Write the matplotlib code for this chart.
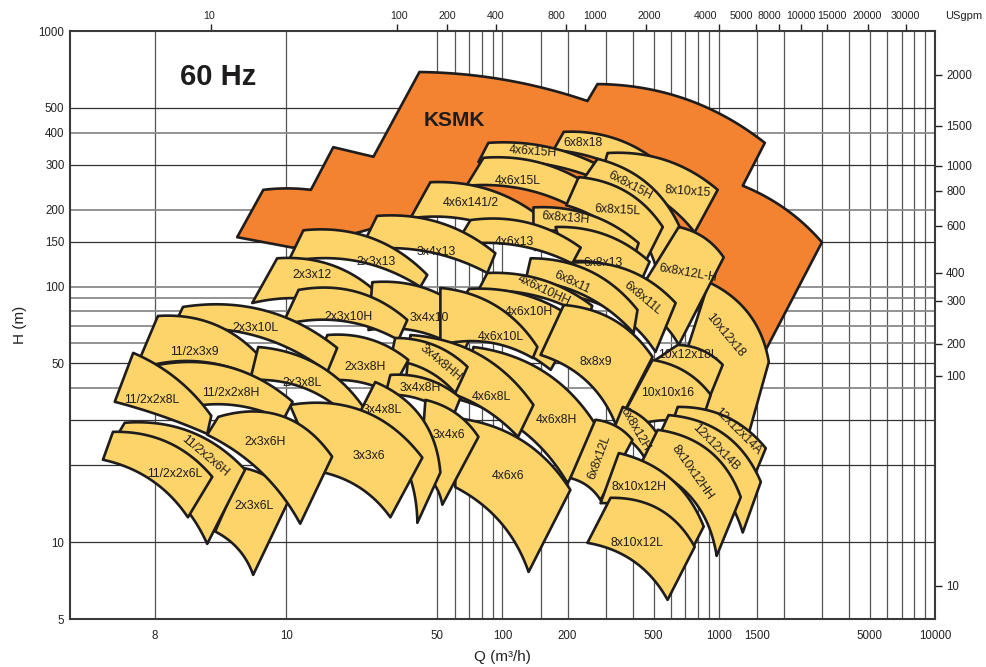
import numpy as np
import matplotlib.pyplot as plt
from matplotlib.ticker import NullLocator

plt.rcParams['font.family'] = ['Liberation Sans', 'DejaVu Sans']

# pump ranges, drawn back to front; corners are TL, TR, BR, BL as (Q m3/h, H m)
tile_names = ['6x8x18', '8x10x15', '4x6x15H', '6x8x15H', '4x6x15L', '6x8x15L',
              '10x12x18', '6x8x12L-H', '4x6x141/2', '6x8x13H', '6x8x13', '4x6x13',
              '3x4x13', '2x3x13', '6x8x11L', '6x8x11', '4x6x10HH', '4x6x10H',
              '2x3x12', '3x4x10', '4x6x10L', '2x3x10H', '10x12x18L', '8x8x9',
              '10x10x16', '12x12x14A', '12x12x14B', '4x6x8H', '4x6x8L', '3x4x8HH',
              '2x3x8H', '2x3x10L', '11/2x3x9', '2x3x8L', '3x4x8H', '6x8x12H',
              '6x8x12L', '8x10x12HH', '8x10x12H', '8x10x12L', '4x6x6', '3x4x6',
              '3x4x8L', '3x3x6', '11/2x2x8H', '11/2x2x8L', '2x3x6L', '2x3x6H',
              '11/2x2x6H', '11/2x2x6L']

tile_q = [[192, 551, 494, 172], [306, 989, 774, 284], [86.0, 284, 266, 77.4],
          [275, 660, 510, 235], [81.7, 263, 235, 68.1], [225, 551, 449, 197],
          [899, 1704, 1291, 612], [653, 1054, 653, 391], [46.4, 163, 142, 37.5],
          [139, 426, 408, 139], [176, 479, 435, 196], [71.1, 230, 210, 60.5],
          [26.3, 92.7, 85.1, 22.0], [12.0, 44.9, 41.7, 10.2], [210, 632, 510, 186],
          [135, 421, 404, 128], [85.1, 260, 250, 77.0], [70.0, 223, 167, 51.6],
          [9.08, 29.0, 26.6, 6.96], [25.0, 76.6, 66.0, 24.0], [51.6, 145, 138, 51.6],
          [11.4, 36.3, 33.0, 9.58], [646, 1043, 889, 494], [192, 494, 337, 150],
          [494, 918, 825, 323], [646, 1650, 1483, 612], [586, 1565, 1291, 494],
          [73.4, 275, 200, 63.9], [37.5, 139, 118, 35.6], [31.9, 68.9, 60.5, 30.3],
          [15.5, 36.7, 30.3, 12.2], [3.33, 17.2, 15.5, 2.96], [2.55, 7.58, 6.96, 2.00],
          [7.42, 23.2, 20.9, 6.81], [30.3, 63.9, 58.6, 28.7], [360, 539, 459, 323],
          [269, 399, 284, 206], [522, 1264, 978, 435], [345, 852, 758, 284],
          [316, 774, 580, 247], [60.5, 206, 132, 60.5], [44.0, 77.4, 52.7, 41.7],
          [25.8, 51.6, 40.4, 22.2], [10.4, 42.6, 30.3, 14.1], [2.53, 10.7, 9.68, 2.90],
          [1.96, 4.50, 4.31, 1.61], [6.32, 10.4, 7.03, 4.69], [4.85, 16.3, 11.6, 4.31],
          [1.79, 6.45, 4.31, 1.44], [1.58, 4.55, 3.51, 1.42]]

tile_h = [[403, 296, 239, 342], [333, 239, 163, 266], [365, 296, 266, 307],
          [316, 171, 121, 261], [319, 243, 195, 248], [268, 171, 121, 208],
          [104, 50.7, 21.9, 37.7], [171, 130, 59.1, 84.7], [256, 176, 139, 185],
          [204, 148, 132, 163], [171, 125, 104, 125], [182, 142, 123, 145],
          [189, 135, 113, 139], [166, 111, 99.7, 125], [124, 86.2, 55.5, 92.7],
          [129, 81.0, 65.8, 106], [113, 84.0, 75.3, 96.0], [97.9, 73.0, 47.2, 64.0],
          [129, 87.0, 72.7, 86.2], [104, 72.0, 55.5, 67.6], [98.8, 58.0, 52.5, 59.1],
          [97.0, 74.0, 61.8, 70.7], [59.1, 49.4, 35.4, 50.7], [84.7, 53.0, 28.3, 54.0],
          [51.6, 37.7, 28.8, 26.3], [33.8, 23.3, 18.7, 29.6], [31.4, 17.2, 10.9, 22.9],
          [58.0, 28.0, 17.0, 36.0], [64.6, 34.4, 25.8, 41.2], [62.9, 48.5, 38.3, 51.6],
          [64.6, 51.6, 38.3, 41.2], [83.2, 57.5, 46.4, 67.6], [76.7, 53.0, 44.7, 47.2],
          [58.0, 32.9, 28.8, 43.1], [45.1, 36.7, 30.6, 37.7], [33.8, 25.1, 21.0, 27.0],
          [30.1, 25.1, 14.6, 17.8], [27.5, 15.0, 8.83, 20.1], [22.3, 11.5, 9.49, 14.2],
          [14.9, 9.58, 5.94, 9.93], [30.6, 16.0, 7.64, 16.4], [36.0, 25.8, 14.0, 19.2],
          [42.3, 18.7, 11.9, 32.9], [34.4, 21.4, 12.5, 18.9], [49.3, 35.4, 30.1, 32.3],
          [55.0, 31.2, 26.5, 35.4], [19.5, 14.9, 7.44, 11.0], [30.9, 21.6, 11.8, 26.3],
          [29.3, 19.2, 9.84, 21.4], [27.0, 18.0, 12.5, 21.0]]

# sag of the upper and lower pump curve, as a share of the chord
tile_sag = [(0.10, 0.08), (0.10, 0.10), (0.07, 0.06), (0.12, 0.10), (0.09, 0.08),
            (0.12, 0.10), (0.13, 0.12), (0.10, 0.10), (0.10, 0.10), (0.10, 0.10),
            (0.10, 0.10), (0.10, 0.08), (0.10, 0.08), (0.12, 0.10), (0.12, 0.12),
            (0.12, 0.10), (0.09, 0.08), (0.09, 0.10), (0.12, 0.10), (0.12, 0.10),
            (0.12, 0.10), (0.12, 0.10), (0.10, 0.10), (0.12, 0.12), (0.10, 0.10),
            (0.12, 0.12), (0.15, 0.15), (0.12, 0.10), (0.12, 0.10), (0.10, 0.10),
            (0.10, 0.10), (0.11, 0.10), (0.12, 0.10), (0.12, 0.12), (0.10, 0.10),
            (0.10, 0.10), (0.10, 0.10), (0.15, 0.15), (0.13, 0.13), (0.15, 0.12),
            (0.12, 0.10), (0.10, 0.10), (0.15, 0.12), (0.15, 0.10), (0.12, 0.10),
            (0.07, 0.02), (0.10, 0.10), (0.18, 0.08), (0.12, 0.12), (0.12, 0.10)]

label_q = [235, 719, 139, 387, 118, 341, 1077, 719, 71.1, 196, 293, 114,
           49.4, 26.1, 444, 210, 155, 132, 13.2, 45.9, 97.9, 19.4, 719, 269,
           580, 1224, 968, 178, 88.8, 51.6, 23.2, 7.18, 3.75, 11.8, 41.7, 408,
           281, 758, 426, 417, 106, 56.2, 27.8, 24.0, 5.56, 2.38, 7.11, 7.99,
           4.22, 3.06]
label_h = [365, 235, 336, 248, 259, 199, 64.6, 113, 212, 185, 124, 149,
           137, 125, 90.2, 104, 97.0, 79.5, 111, 75.3, 63.5, 76.0, 54.0, 50.7,
           38.3, 27.0, 23.5, 30.1, 37.0, 50.2, 48.5, 68.8, 55.5, 41.9, 40.1, 27.5,
           21.4, 18.7, 16.4, 9.93, 18.1, 26.3, 32.9, 21.8, 38.3, 36.0, 13.8, 24.7,
           21.6, 18.4]
label_rot = [0, -4, -4, -28, 0, -3, -50, -10, 0, -5, 0, 0,
             0, 0, -40, -25, -25, 0, 0, 0, 0, 0, 0, 0,
             0, -45, -45, 0, 0, -40, 0, 0, 0, 0, 0, -60,
             70, -55, 0, 0, 0, 0, 0, 0, 0, 0, 0, 0,
             -40, 0]

# KSMK envelope, clockwise from its left tip
ksmk_q = [5.93, 7.83, 13.0, 16.5, 25.3, 41.3, 247, 275, 1633, 1291, 3000, 1650,
          1021, 484, 186, 41.7, 16.0, 10.7]
ksmk_h = [156, 239, 239, 351, 322, 691, 532, 620, 365, 248, 149, 56.5,
          67.6, 139, 190, 190, 152, 142]
ksmk_sag = [0, 0.03, 0, 0, 0, 0.04, 0, 0.085, 0, 0.06, 0, 0,
            0, 0, 0, 0, 0, 0]

# grid and axis ticks
grid_q = [2.47, 10, 50, 60, 70, 80, 90, 100, 150, 200, 300, 400, 500, 600, 700,
          800, 900, 1000, 1500, 2000, 3000, 4000, 5000, 6000, 7000, 8000, 9000]
grid_h_dark = [500, 300, 150, 50, 30, 20, 10]
grid_h_grey = [400, 200, 100, 90, 80, 70, 60, 40]
q_ticks = [2.47, 10, 50, 100, 200, 500, 1000, 1500, 5000, 10000]
q_labels = ['8', '10', '50', '100', '200', '500', '1000', '1500', '5000', '10000']
h_ticks = [5, 10, 50, 100, 150, 200, 300, 400, 500, 1000]
h_labels = ['5', '10', '50', '100', '150', '200', '300', '400', '500', '1000']
gpm_ticks = [4.49, 32.6, 55.6, 93.8, 196, 240, 459, 1000, 1483, 1895, 2397,
             3162, 4895, 7345]
gpm_label_q = [4.39, 33.2, 55.4, 93.3, 177, 268, 476, 873, 1267, 1708, 2401,
               3340, 4848, 7265]
gpm_labels = ['10', '100', '200', '400', '800', '1000', '2000', '4000', '5000',
              '8000', '10000', '15000', '20000', '30000']
ft_ticks = [673, 425, 297, 237, 173, 113, 87.9, 59.6, 44.8, 6.76]
ft_labels = ['2000', '1500', '1000', '800', '600', '400', '300', '200', '100', '10']

YELLOW = '#FCD46A'
ORANGE = '#F38231'
INK = '#1e1c1c'


def outline(ax, qs, hs, sags, n=40):
    # edges built in screen space so the bows look the same on log axes
    pts = ax.transData.transform(np.column_stack([qs, hs]))
    t = np.linspace(0, 1, n)[:, None]
    segs = []
    for i in range(len(pts)):
        a, b = pts[i], pts[(i + 1) % len(pts)]
        if sags[i]:
            d = b - a
            c = (a + b) / 2 + np.array([-d[1], d[0]]) * 2 * sags[i]
            seg = (1 - t) ** 2 * a + 2 * (1 - t) * t * c + t ** 2 * b
        else:
            seg = a + (b - a) * t
        segs.append(seg[:-1])
    xy = ax.transData.inverted().transform(np.vstack(segs))
    return xy[:, 0], xy[:, 1]


fig = plt.figure(figsize=(9.87, 6.67), dpi=100)
ax = fig.add_axes([70 / 987, 48 / 667, 865 / 987, 588 / 667])
ax.set_xscale('log')
ax.set_yscale('log')
ax.set_xlim(1, 10000)
ax.set_ylim(5, 1000)

for q in grid_q:
    ax.axvline(q, color='#555555', lw=0.9, zorder=0.5)
for h in grid_h_dark:
    ax.axhline(h, color='#333333', lw=0.9, zorder=0.5)
for h in grid_h_grey:
    ax.axhline(h, color='#8a8a8a', lw=1.3, zorder=0.5)

x, y = outline(ax, ksmk_q, ksmk_h, ksmk_sag)
ax.fill(x, y, facecolor=ORANGE, edgecolor=INK, lw=1.9, joinstyle='round', zorder=2)
ax.text(59.9, 445, 'KSMK', fontsize=15, fontweight='bold', color=INK,
        ha='center', va='center', zorder=200)

for i, name in enumerate(tile_names):
    top_sag, bottom_sag = tile_sag[i]
    x, y = outline(ax, tile_q[i], tile_h[i], [top_sag, 0, -bottom_sag, 0])
    ax.fill(x, y, facecolor=YELLOW, edgecolor=INK, lw=1.9, joinstyle='round',
            zorder=3 + i * 0.01)
    ax.text(label_q[i], label_h[i], name, fontsize=8.8, color=INK, rotation=label_rot[i],
            rotation_mode='anchor', ha='center', va='center', zorder=200)

ax.text(4.85, 661, '60 Hz', fontsize=21, fontweight='bold', color=INK,
        ha='center', va='center')

for side in ax.spines.values():
    side.set_color('#3a3a3a')
    side.set_linewidth(1.5)

ax.set_xticks(q_ticks, labels=q_labels)
ax.set_yticks(h_ticks, labels=h_labels)
ax.xaxis.set_minor_locator(NullLocator())
ax.yaxis.set_minor_locator(NullLocator())
ax.tick_params(axis='x', length=0, pad=8, labelsize=8.3, colors='#222222')
ax.tick_params(axis='y', length=0, pad=4, labelsize=8.3, colors='#222222')

# USgpm scale along the top: marks on the frame, figures set between them
top = ax.secondary_xaxis('top')
top.set_xticks(gpm_ticks, labels=[''] * len(gpm_ticks))
top.xaxis.set_minor_locator(NullLocator())
top.tick_params(direction='out', length=5, width=1, colors='#222222')
top.spines['top'].set_visible(False)
for q, s in zip(gpm_label_q, gpm_labels):
    ax.annotate(s, xy=(q, 1), xycoords=('data', 'axes fraction'), xytext=(0, 11),
                textcoords='offset points', ha='center', va='center',
                fontsize=7.7, color='#222222')

right = ax.secondary_yaxis('right')
right.set_yticks(ft_ticks, labels=ft_labels)
right.yaxis.set_minor_locator(NullLocator())
right.tick_params(direction='out', length=5, width=1, pad=3, labelsize=8.3,
                  colors='#222222')
right.spines['right'].set_visible(False)

fig.text(964 / 987, 1 - 16 / 667, 'USgpm', fontsize=8, color='#222222',
         ha='center', va='center')
ax.set_xlabel('Q (m³/h)', fontsize=11, color='#222222', labelpad=6)
ax.set_ylabel('H (m)', fontsize=11, color='#222222', labelpad=8)

fig.savefig('out.png', dpi=100)
